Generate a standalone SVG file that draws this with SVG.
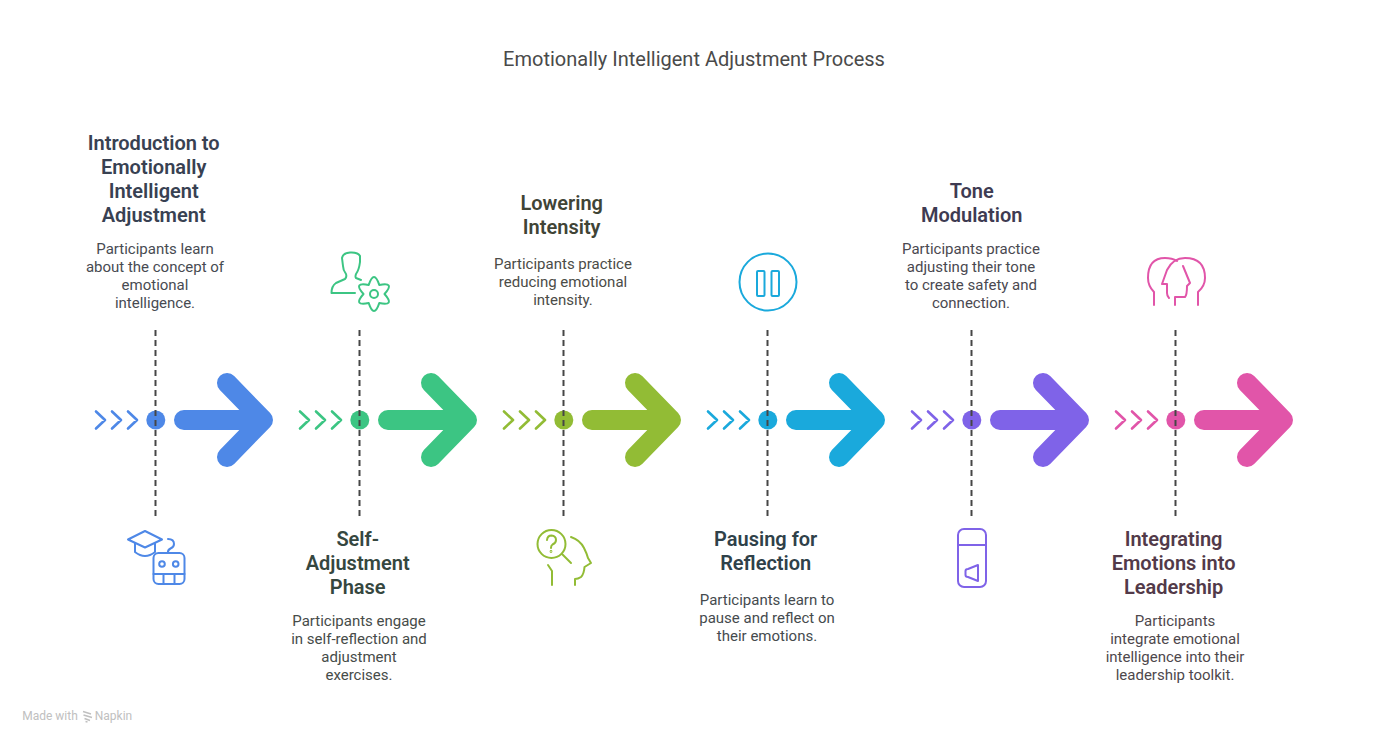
<svg xmlns="http://www.w3.org/2000/svg" width="1388" height="744" viewBox="0 0 1388 744">
<style>
text{font-family:Roboto,"Liberation Sans",sans-serif;text-anchor:middle}
.title{font-size:20px;fill:#4a4a4a}
.h{font-size:20px;font-weight:600}
.b{font-size:15px}
.dash{stroke:#464646;stroke-width:2;stroke-dasharray:6 4;fill:none}
.ic{fill:none;stroke-width:2;stroke-linecap:round;stroke-linejoin:round}
.big{fill:none;stroke-width:20;stroke-linecap:round;stroke-linejoin:round}
.chev{fill:none;stroke-width:2.600;stroke-linecap:round;stroke-linejoin:round}
.blue{stroke:#4e88e7}.green{stroke:#3cc583}.olive{stroke:#92bc35}.cyan{stroke:#1aa9dc}.purple{stroke:#7f63e8}.pink{stroke:#e155a9}
</style>
<defs>
<g id="chevs"><path d="M96 411.500L105 420L96 428.500M112 411.500L121 420L112 428.500M128 411.500L137 420L128 428.500"/></g>
<g id="bigarrow"><path d="M184 420H257M227 383L263 420L227 457"/></g>
</defs>
<text class="title" x="694" y="66">Emotionally Intelligent Adjustment Process</text>

<g id="step1">
<use href="#chevs" class="chev blue"/>
<circle cx="155.800" cy="420" r="9.500" fill="#4e88e7"/>
<use href="#bigarrow" class="big blue"/>
<g fill="#384152"><text class="h" x="153.700" y="150">Introduction to</text><text class="h" x="153.700" y="174">Emotionally</text><text class="h" x="153.700" y="198">Intelligent</text><text class="h" x="153.700" y="222">Adjustment</text></g>
<g fill="#474b52"><text class="b" x="155" y="254">Participants learn</text><text class="b" x="155" y="272">about the concept of</text><text class="b" x="155" y="290">emotional</text><text class="b" x="155" y="308">intelligence.</text></g>
<g class="ic blue">
<path d="M128 539.500L145 531L162 539.500L145 547.500Z"/>
<path d="M135 543V552Q145 560 155 552V543"/>
<path d="M168 539Q174 539 174 544Q174 547 170.500 548.500Q167.500 550 168 553"/>
<rect x="153.500" y="553" width="31" height="31" rx="5"/>
<path d="M153.500 574H184.500M163.500 574V584M174.500 574V584"/>
<circle cx="162" cy="564" r="2.800"/><circle cx="175.700" cy="564" r="2.800"/>
</g>
</g>

<g id="step2">
<use href="#chevs" x="204" class="chev green"/>
<circle cx="359.800" cy="420" r="9.500" fill="#3cc583"/>
<use href="#bigarrow" x="204" class="big green"/>
<g fill="#35473f"><text class="h" x="357.700" y="546">Self-</text><text class="h" x="357.700" y="570">Adjustment</text><text class="h" x="357.700" y="594">Phase</text></g>
<g fill="#464c49"><text class="b" x="359" y="626">Participants engage</text><text class="b" x="359" y="644">in self-reflection and</text><text class="b" x="359" y="662">adjustment</text><text class="b" x="359" y="680">exercises.</text></g>
<g class="ic green">
<path d="M355 293H331.500Q331.500 286 336 283L345 279Q347 277 346 274Q343 270 343 266L342 258Q343 253 350 252.500Q358 252 360 256L360 262Q359 270 356 274Q355 277 356 278L361 280"/>
<path d="M368.750 284.900Q374 269.100 379.250 284.900Q395.600 281.550 384.500 294Q395.600 306.450 379.250 303.100Q374 318.900 368.750 303.100Q352.400 306.450 363.500 294Q352.400 281.550 368.750 284.900Z"/>
<circle cx="374" cy="294" r="4"/>
</g>
</g>

<g id="step3">
<use href="#chevs" x="408" class="chev olive"/>
<circle cx="563.800" cy="420" r="9.500" fill="#92bc35"/>
<use href="#bigarrow" x="408" class="big olive"/>
<g fill="#404436"><text class="h" x="561.700" y="210">Lowering</text><text class="h" x="561.700" y="234">Intensity</text></g>
<g fill="#4b4c47"><text class="b" x="563" y="269">Participants practice</text><text class="b" x="563" y="287">reducing emotional</text><text class="b" x="563" y="305">intensity.</text></g>
<g class="ic olive">
<circle cx="551.500" cy="544" r="14"/>
<path d="M562 554L571 563"/>
<path d="M547 540Q547.500 535.500 551.500 535.500Q556 536 556 540Q556 543 552.500 544.500Q551 545.500 551 548"/>
<circle cx="551" cy="551.500" r=".4"/>
<path d="M571 537Q580 540 584 548Q587 554 588 558L591 563L584.500 567Q584 574 581 577Q578 579 575 579V585"/>
<path d="M548 565L552 571V585"/>
</g>
</g>

<g id="step4">
<use href="#chevs" x="612" class="chev cyan"/>
<circle cx="767.800" cy="420" r="9.500" fill="#1aa9dc"/>
<use href="#bigarrow" x="612" class="big cyan"/>
<g fill="#2f4149"><text class="h" x="765.700" y="546">Pausing for</text><text class="h" x="765.700" y="570">Reflection</text></g>
<g fill="#454b4e"><text class="b" x="767" y="605">Participants learn to</text><text class="b" x="767" y="623">pause and reflect on</text><text class="b" x="767" y="641">their emotions.</text></g>
<g class="ic cyan">
<circle cx="768" cy="282" r="28.500"/>
<rect x="757" y="271" width="7.500" height="25" rx="1"/>
<rect x="771.500" y="271" width="7.500" height="25" rx="1"/>
</g>
</g>

<g id="step5">
<use href="#chevs" x="816" class="chev purple"/>
<circle cx="971.800" cy="420" r="9.500" fill="#7f63e8"/>
<use href="#bigarrow" x="816" class="big purple"/>
<g fill="#3e3b52"><text class="h" x="971.700" y="198">Tone</text><text class="h" x="971.700" y="222">Modulation</text></g>
<g fill="#4a4950"><text class="b" x="971" y="254">Participants practice</text><text class="b" x="971" y="272">adjusting their tone</text><text class="b" x="971" y="290">to create safety and</text><text class="b" x="971" y="308">connection.</text></g>
<g class="ic purple">
<rect x="958" y="529" width="28" height="58" rx="6"/>
<path d="M958 545H986"/>
<path d="M965.500 571Q965.500 569 968 569L978 565V581L968 577Q965.500 577 965.500 575Z"/>
</g>
</g>

<g id="step6">
<use href="#chevs" x="1020" class="chev pink"/>
<circle cx="1175.800" cy="420" r="9.500" fill="#e155a9"/>
<use href="#bigarrow" x="1020" class="big pink"/>
<g fill="#523a49"><text class="h" x="1173.600" y="546">Integrating</text><text class="h" x="1173.600" y="570">Emotions into</text><text class="h" x="1173.600" y="594">Leadership</text></g>
<g fill="#4e484c"><text class="b" x="1175" y="626">Participants</text><text class="b" x="1175" y="644">integrate emotional</text><text class="b" x="1175" y="662">intelligence into their</text><text class="b" x="1175" y="680">leadership toolkit.</text></g>
<g class="ic pink">
<path d="M1154 305V292Q1148 286 1148 278Q1148 258 1165 258Q1172 258 1177 261"/>
<path d="M1183 266L1190 283L1187 286Q1187 295 1185 297H1175V305"/>
<path d="M1198 305V292Q1205 286 1205 278Q1205 258 1185 258Q1173 258 1167 270L1162 284H1167V293Q1167 296 1169 298"/>
</g>
</g>

<g id="connectors">
<path class="dash" d="M155.500 330V517M359.500 330V517M563.500 330V517M767.500 330V517M971.500 330V517M1175.500 330V517"/>
</g>

<g id="footer">
<text x="50" y="720" style="font-size:12px;fill:#c0c0c0">Made with</text>
<path d="M83 711.500L91 714M83.500 715L92 717.500M84.500 718.500L90 720.500M85.500 721.500L87.500 722" fill="none" stroke="#c0c0c0" stroke-width="1.500"/>
<text x="113.500" y="720" style="font-size:12px;fill:#c0c0c0">Napkin</text>
</g>
</svg>
